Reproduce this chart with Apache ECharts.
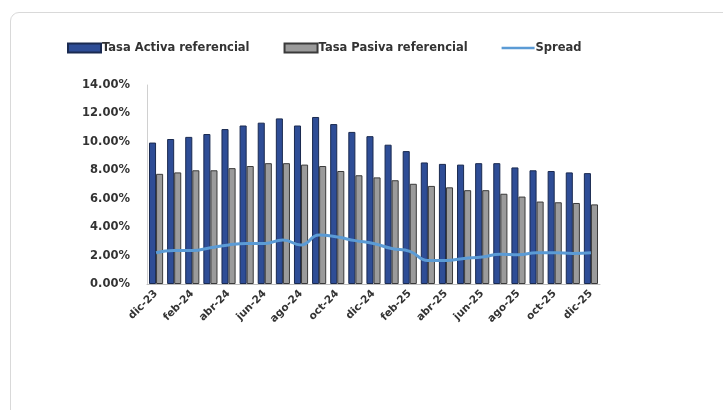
<!DOCTYPE html>
<html>
<head>
<meta charset="utf-8">
<script src="https://cdn.jsdelivr.net/npm/echarts@6/dist/echarts.min.js"></script>
<style>
  html, body { margin: 0; padding: 0; background: #fff; }
  .card {
    position: absolute; left: 10px; top: 12px; width: 760px; height: 420px;
    border: 1px solid #d9d9d9; border-radius: 9px; box-sizing: border-box;
  }
  #main { position: absolute; left: 0; top: 0; width: 723px; height: 410px; }
</style>
</head>
<body>
<div class="card"></div>
<div id="main"></div>
<script>
// meses dic-23 .. dic-25
var months = ['dic-23', 'ene-24', 'feb-24', 'mar-24', 'abr-24', 'may-24', 'jun-24', 'jul-24', 'ago-24', 'sep-24', 'oct-24', 'nov-24', 'dic-24',
  'ene-25', 'feb-25', 'mar-25', 'abr-25', 'may-25', 'jun-25', 'jul-25', 'ago-25', 'sep-25', 'oct-25', 'nov-25', 'dic-25']
var tasaActiva = [9.95, 10.2, 10.35, 10.55, 10.9, 11.15, 11.35, 11.65, 11.15, 11.75, 11.25, 10.7, 10.4,
  9.8, 9.35, 8.55, 8.45, 8.4, 8.5, 8.5, 8.2, 8.0, 7.95, 7.85, 7.8]
var tasaPasiva = [7.75, 7.85, 8.0, 8.0, 8.15, 8.3, 8.5, 8.5, 8.4, 8.3, 7.95, 7.65, 7.5,
  7.3, 7.05, 6.9, 6.8, 6.6, 6.6, 6.35, 6.15, 5.8, 5.75, 5.7, 5.6]
var spread = [2.2, 2.35, 2.35, 2.55, 2.75, 2.85, 2.85, 3.1, 2.75, 3.45, 3.3, 3.05, 2.85,
  2.5, 2.3, 1.65, 1.65, 1.8, 1.9, 2.1, 2.05, 2.2, 2.2, 2.15, 2.2]

var font = 'DejaVu Sans'
var chart = echarts.init(document.getElementById('main'))
chart.setOption({
  animation: false,
  textStyle: { fontFamily: font },
  legend: {
    top: 37,
    left: 62,
    itemWidth: 33,
    itemHeight: 9,
    itemGap: 34,
    textStyle: { fontSize: 11.5, fontWeight: 'bold', color: '#333', padding: [0, 0, 0, -4] },
    data: [
      { name: 'Tasa Activa referencial', icon: 'rect' },
      { name: 'Tasa Pasiva referencial', icon: 'rect' },
      { name: 'Spread', icon: 'path://M0,0 H40 V3 H0 Z' }
    ]
  },
  grid: { left: 147, right: 123, top: 85, bottom: 126 },
  xAxis: {
    type: 'category',
    data: months,
    axisTick: { show: false },
    axisLine: { lineStyle: { color: '#bfbfbf' } },
    axisLabel: {
      interval: 1, rotate: 45, fontSize: 10.5, fontWeight: 'bold', color: '#333', margin: 8
    }
  },
  yAxis: {
    type: 'value',
    min: 0, max: 14, interval: 2,
    splitLine: { show: false },
    axisLine: { show: true, lineStyle: { color: '#d0d0d0' } },
    axisLabel: {
      fontSize: 11.5, fontWeight: 'bold', color: '#333', margin: 17,
      formatter: function (v) { return v.toFixed(2) + '%' }
    }
  },
  series: [
    {
      name: 'Tasa Activa referencial',
      type: 'bar',
      data: tasaActiva,
      barGap: '0%',
      barCategoryGap: '22%',
      itemStyle: { color: '#2e4d96', borderColor: '#1a2a50', borderWidth: 1 }
    },
    {
      name: 'Tasa Pasiva referencial',
      type: 'bar',
      data: tasaPasiva,
      itemStyle: { color: '#9b9b9b', borderColor: '#3a3a3a', borderWidth: 1 }
    },
    {
      name: 'Spread',
      type: 'line',
      data: spread,
      smooth: true,
      symbol: 'none',
      lineStyle: { color: '#5b9bd5', width: 3 },
      itemStyle: { color: '#5b9bd5' }
    }
  ]
})
</script>
</body>
</html>
